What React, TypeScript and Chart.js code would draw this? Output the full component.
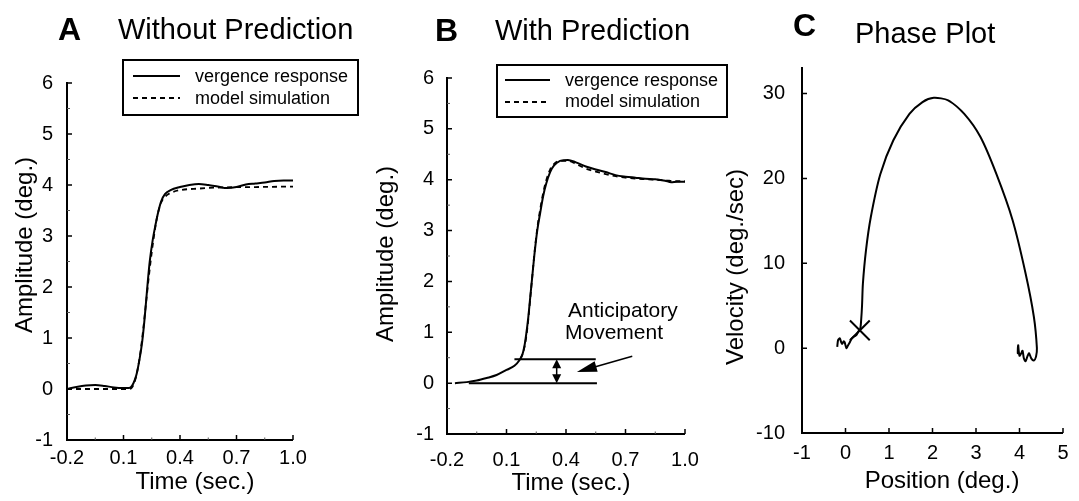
import { useEffect, useRef } from 'react';
import { Chart, registerables } from 'chart.js';

Chart.register(...registerables);

const FONT = "'Liberation Sans', Arial, Helvetica, sans-serif";
const W = 1079;
const H = 501;

// ---------------- Panel A: Without Prediction ----------------
const timeResponseA = [-0.2, -0.15, -0.1, -0.05, 0.0, 0.05, 0.1, 0.13, 0.145, 0.16, 0.17, 0.185, 0.2, 0.21, 0.22, 0.23, 0.24, 0.255, 0.27, 0.285, 0.3, 0.32, 0.35, 0.4, 0.45, 0.5, 0.55, 0.6, 0.65, 0.7, 0.75, 0.8, 0.85, 0.9, 0.95, 1.0];
const ampResponseA = [0, 0.04, 0.07, 0.08, 0.06, 0.03, 0.02, 0.02, 0.06, 0.18, 0.3, 0.58, 0.95, 1.3, 1.72, 2.15, 2.52, 2.92, 3.22, 3.48, 3.68, 3.82, 3.9, 3.96, 4.0, 4.02, 4.0, 3.97, 3.94, 3.96, 4.01, 4.03, 4.05, 4.08, 4.09, 4.09];
const timeModelA = [-0.2, 0.0, 0.13, 0.145, 0.16, 0.175, 0.19, 0.205, 0.22, 0.235, 0.25, 0.265, 0.28, 0.3, 0.33, 0.36, 0.4, 0.5, 0.6, 0.8, 1.0];
const ampModelA = [0, 0, 0, 0.03, 0.15, 0.38, 0.72, 1.18, 1.7, 2.22, 2.68, 3.08, 3.4, 3.66, 3.8, 3.86, 3.9, 3.93, 3.95, 3.96, 3.97];

// ---------------- Panel B: With Prediction ----------------
const timeResponseB = [-0.16, -0.1, -0.05, 0.0, 0.05, 0.1, 0.14, 0.165, 0.18, 0.19, 0.2, 0.21, 0.22, 0.23, 0.24, 0.255, 0.27, 0.285, 0.3, 0.32, 0.34, 0.37, 0.41, 0.45, 0.5, 0.55, 0.6, 0.65, 0.7, 0.75, 0.8, 0.85, 0.9, 0.93, 0.96, 1.0];
const ampResponseB = [0.0, 0.02, 0.05, 0.1, 0.16, 0.26, 0.34, 0.45, 0.56, 0.72, 0.98, 1.3, 1.7, 2.1, 2.5, 3.0, 3.35, 3.68, 3.92, 4.15, 4.28, 4.37, 4.39, 4.34, 4.26, 4.2, 4.15, 4.09, 4.06, 4.04, 4.02, 4.01, 3.98, 3.95, 3.96, 3.96];
const timeModelB = [0.17, 0.185, 0.2, 0.21, 0.22, 0.23, 0.24, 0.255, 0.27, 0.285, 0.3, 0.32, 0.34, 0.37, 0.41, 0.45, 0.5, 0.55, 0.6, 0.65, 0.7, 0.8, 0.9, 0.95, 1.0];
const ampModelB = [0.48, 0.62, 0.92, 1.26, 1.68, 2.1, 2.52, 3.04, 3.42, 3.74, 3.98, 4.2, 4.31, 4.37, 4.37, 4.31, 4.22, 4.16, 4.11, 4.07, 4.04, 4.01, 3.99, 3.97, 3.97];
// Anticipatory movement annotation (data coordinates)
const anticipatoryLevel = 0.47;
const upperLineTimes = [0.14, 0.55];
const baselineTimes = [-0.09, 0.556];
const doubleArrowTime = 0.353;
const pointerFrom = [0.734, 0.53];
const pointerTo = [0.455, 0.22];

// ---------------- Panel C: Phase Plot ----------------
const phasePosition = [-0.19, -0.17, -0.13, -0.1, -0.08, -0.04, -0.02, 0.02, 0.05, 0.09, 0.14, 0.19, 0.25, 0.3, 0.34, 0.36, 0.38, 0.4, 0.47, 0.58, 0.8, 1.1, 1.47, 1.77, 2.03, 2.36, 2.73, 3.1, 3.47, 3.84, 4.14, 4.33, 4.4, 4.38, 4.33, 4.27, 4.22, 4.18, 4.14, 4.1, 4.07, 4.04, 4.0, 3.98, 3.97, 3.96, 3.97];
const phaseVelocity = [0.15, 0.95, 1.15, 0.7, 0.5, 0.8, 0.7, 0.0, 0.25, 0.6, 1.1, 1.35, 1.55, 2.0, 2.3, 3.3, 5.0, 7.6, 11.5, 15.4, 20.5, 24.5, 27.6, 29.0, 29.5, 29.2, 27.6, 24.9, 20.5, 15.1, 8.8, 3.7, 0.0, -1.0, -1.45, -1.2, -0.6, -1.0, -1.55, -1.2, -0.3, -0.6, -0.9, -0.2, 0.35, -0.6, 0.1];
const onsetPosition = [0.33];
const onsetVelocity = [2.1];

// ---------------- Ticks ----------------
const timeTicks = [-0.2, 0.1, 0.4, 0.7, 1.0];
const timeTickLabels = ['-0.2', '0.1', '0.4', '0.7', '1.0'];
const timeMinorTicks = [-0.05, 0.25, 0.55, 0.85];
const ampTicks = [-1, 0, 1, 2, 3, 4, 5, 6];
const ampTickLabels = ['-1', '0', '1', '2', '3', '4', '5', '6'];
const ampMinorTicks = [-0.5, 0.5, 1.5, 2.5, 3.5, 4.5, 5.5];
const posTicks = [-1, 0, 1, 2, 3, 4, 5];
const posTickLabels = ['-1', '0', '1', '2', '3', '4', '5'];
const velTicks = [-10, 0, 10, 20, 30];
const velTickLabels = ['-10', '0', '10', '20', '30'];

const legendLabels = ['vergence response', 'model simulation'];

const zip = (xs: number[], ys: number[]) => xs.map((x, i) => ({ x, y: ys[i] }));

type TextSpec = { text: string; x: number; y: number; size: number; bold?: boolean; align?: CanvasTextAlign; rotate?: boolean };

interface PanelSpec {
  key: string;
  area: { left: number; right: number; top: number; bottom: number };
  xRange: [number, number];
  yRange: [number, number];
  xTicks: number[];
  xLabels: string[];
  xMinor: number[];
  yTicks: number[];
  yLabels: string[];
  yMinor: number[];
  xLabelPad: number;
  yLabelPad: number;
  axisOvershoot: number;
  texts: TextSpec[];
  legend?: { x: number; y: number; w: number; h: number; lineX0: number; lineX1: number; textX: number; rows: { lineY: number; baseY: number; dash: boolean; label: string }[] };
  datasets: any[];
  annotate?: (ctx: CanvasRenderingContext2D, chart: any) => void;
}

function arrowHead(ctx: CanvasRenderingContext2D, tx: number, ty: number, angle: number, len: number, half: number) {
  const bx = tx - Math.cos(angle) * len;
  const by = ty - Math.sin(angle) * len;
  const nx = -Math.sin(angle) * half;
  const ny = Math.cos(angle) * half;
  ctx.beginPath();
  ctx.moveTo(tx, ty);
  ctx.lineTo(bx + nx, by + ny);
  ctx.lineTo(bx - nx, by - ny);
  ctx.closePath();
  ctx.fill();
}

function annotateB(ctx: CanvasRenderingContext2D, chart: any) {
  const xs = chart.scales.x;
  const ys = chart.scales.y;
  const px = (v: number) => xs.getPixelForValue(v);
  const py = (v: number) => ys.getPixelForValue(v);
  ctx.save();
  ctx.strokeStyle = '#000';
  ctx.fillStyle = '#000';
  ctx.lineWidth = 2;
  // horizontal reference lines
  ctx.beginPath();
  ctx.moveTo(px(upperLineTimes[0]), py(anticipatoryLevel));
  ctx.lineTo(px(upperLineTimes[1]), py(anticipatoryLevel));
  ctx.moveTo(px(baselineTimes[0]), py(0));
  ctx.lineTo(px(baselineTimes[1]), py(0));
  ctx.stroke();
  // double arrow
  const ax = px(doubleArrowTime);
  const yTop = py(anticipatoryLevel);
  const yBot = py(0);
  ctx.lineWidth = 1.5;
  ctx.beginPath();
  ctx.moveTo(ax, yTop + 6);
  ctx.lineTo(ax, yBot - 6);
  ctx.stroke();
  arrowHead(ctx, ax, yTop, -Math.PI / 2, 9, 4.5);
  arrowHead(ctx, ax, yBot, Math.PI / 2, 9, 4.5);
  // pointer arrow
  const fx = px(pointerFrom[0]);
  const fy = py(pointerFrom[1]);
  const tx = px(pointerTo[0]);
  const ty = py(pointerTo[1]);
  const ang = Math.atan2(ty - fy, tx - fx);
  ctx.beginPath();
  ctx.moveTo(fx, fy);
  ctx.lineTo(tx - Math.cos(ang) * 12, ty - Math.sin(ang) * 12);
  ctx.stroke();
  arrowHead(ctx, tx, ty, ang, 20, 5.5);
  ctx.restore();
}

const solid = (data: { x: number; y: number }[]) => ({
  data,
  showLine: true,
  borderColor: '#000',
  backgroundColor: '#000',
  borderWidth: 2,
  pointRadius: 0,
  cubicInterpolationMode: 'monotone',
});

const dashed = (data: { x: number; y: number }[]) => ({
  data,
  showLine: true,
  borderColor: '#000',
  backgroundColor: '#000',
  borderWidth: 1.8,
  borderDash: [5, 4],
  pointRadius: 0,
  cubicInterpolationMode: 'monotone',
});

const panels: PanelSpec[] = [
  {
    key: 'A',
    area: { left: 67, right: 293, top: 83, bottom: 440 },
    xRange: [-0.2, 1.0],
    yRange: [-1, 6],
    xTicks: timeTicks,
    xLabels: timeTickLabels,
    xMinor: timeMinorTicks,
    yTicks: ampTicks,
    yLabels: ampTickLabels,
    yMinor: ampMinorTicks,
    xLabelPad: 6,
    yLabelPad: 14,
    axisOvershoot: 1,
    texts: [
      { text: 'A', x: 58, y: 40, size: 32, bold: true },
      { text: 'Without Prediction', x: 118, y: 39, size: 29 },
      { text: 'Time (sec.)', x: 195, y: 489, size: 24, align: 'center' },
      { text: 'Amplitude (deg.)', x: 32, y: 245, size: 24, align: 'center', rotate: true },
    ],
    legend: {
      x: 123, y: 60, w: 235, h: 55, lineX0: 133, lineX1: 180, textX: 195,
      rows: [
        { lineY: 76, baseY: 82, dash: false, label: legendLabels[0] },
        { lineY: 98, baseY: 104, dash: true, label: legendLabels[1] },
      ],
    },
    datasets: [solid(zip(timeResponseA, ampResponseA)), dashed(zip(timeModelA, ampModelA))],
  },
  {
    key: 'B',
    area: { left: 447, right: 685, top: 78, bottom: 434 },
    xRange: [-0.2, 1.0],
    yRange: [-1, 6],
    xTicks: timeTicks,
    xLabels: timeTickLabels,
    xMinor: timeMinorTicks,
    yTicks: ampTicks,
    yLabels: ampTickLabels,
    yMinor: ampMinorTicks,
    xLabelPad: 14,
    yLabelPad: 13,
    axisOvershoot: 1,
    texts: [
      { text: 'B', x: 435, y: 41, size: 32, bold: true },
      { text: 'With Prediction', x: 495, y: 40, size: 29 },
      { text: 'Time (sec.)', x: 571, y: 490, size: 24, align: 'center' },
      { text: 'Amplitude (deg.)', x: 393, y: 254, size: 24, align: 'center', rotate: true },
      { text: 'Anticipatory', x: 568, y: 317, size: 21 },
      { text: 'Movement', x: 565, y: 339, size: 21 },
    ],
    legend: {
      x: 497, y: 65, w: 230, h: 52, lineX0: 505, lineX1: 550, textX: 565,
      rows: [
        { lineY: 80, baseY: 86, dash: false, label: legendLabels[0] },
        { lineY: 102, baseY: 107, dash: true, label: legendLabels[1] },
      ],
    },
    datasets: [solid(zip(timeResponseB, ampResponseB)), dashed(zip(timeModelB, ampModelB))],
    annotate: annotateB,
  },
  {
    key: 'C',
    area: { left: 802, right: 1072, top: 67, bottom: 433 },
    xRange: [-1, 5],
    yRange: [-10, 33.13],
    xTicks: posTicks,
    xLabels: posTickLabels,
    xMinor: [],
    yTicks: velTicks,
    yLabels: velTickLabels,
    yMinor: [],
    xLabelPad: 8,
    yLabelPad: 17,
    axisOvershoot: 0,
    texts: [
      { text: 'C', x: 793, y: 36, size: 32, bold: true },
      { text: 'Phase Plot', x: 855, y: 43, size: 29 },
      { text: 'Position (deg.)', x: 942, y: 488, size: 24, align: 'center' },
      { text: 'Velocity (deg./sec)', x: 743, y: 267, size: 24, align: 'center', rotate: true },
    ],
    datasets: [
      { ...solid(zip(phasePosition, phaseVelocity)), cubicInterpolationMode: 'default', tension: 0.25 },
      {
        data: zip(onsetPosition, onsetVelocity),
        showLine: false,
        pointStyle: 'crossRot',
        pointRadius: 14,
        borderColor: '#000',
        borderWidth: 2,
      },
    ],
  },
];

function makePlugin(spec: PanelSpec) {
  return {
    id: 'panelDecor' + spec.key,
    beforeDatasetsDraw(chart: any) {
      const ctx: CanvasRenderingContext2D = chart.ctx;
      const xs = chart.scales.x;
      const ys = chart.scales.y;
      const { left, right, top, bottom } = chart.chartArea;
      ctx.save();
      ctx.strokeStyle = '#000';
      ctx.lineWidth = 2;
      ctx.beginPath();
      ctx.moveTo(left, top - spec.axisOvershoot);
      ctx.lineTo(left, bottom);
      ctx.lineTo(right, bottom);
      ctx.stroke();
      ctx.lineWidth = 1.5;
      ctx.beginPath();
      spec.xTicks.forEach((v) => {
        const p = xs.getPixelForValue(v);
        ctx.moveTo(p, bottom);
        ctx.lineTo(p, bottom - 5);
      });
      spec.yTicks.forEach((v) => {
        const p = ys.getPixelForValue(v);
        ctx.moveTo(left, p);
        ctx.lineTo(left + 5, p);
      });
      ctx.stroke();
      ctx.lineWidth = 1;
      ctx.strokeStyle = '#555';
      ctx.beginPath();
      spec.xMinor.forEach((v) => {
        const p = xs.getPixelForValue(v);
        ctx.moveTo(p, bottom);
        ctx.lineTo(p, bottom - 2.5);
      });
      spec.yMinor.forEach((v) => {
        const p = ys.getPixelForValue(v);
        ctx.moveTo(left, p);
        ctx.lineTo(left + 3, p);
      });
      ctx.stroke();
      ctx.restore();
    },
    afterDraw(chart: any) {
      const ctx: CanvasRenderingContext2D = chart.ctx;
      ctx.save();
      ctx.fillStyle = '#000';
      ctx.strokeStyle = '#000';
      ctx.textBaseline = 'alphabetic';
      spec.texts.forEach((t) => {
        ctx.font = `${t.bold ? 'bold ' : ''}${t.size}px ${FONT}`;
        ctx.textAlign = t.align || 'left';
        if (t.rotate) {
          ctx.save();
          ctx.translate(t.x, t.y);
          ctx.rotate(-Math.PI / 2);
          ctx.fillText(t.text, 0, 0);
          ctx.restore();
        } else {
          ctx.fillText(t.text, t.x, t.y);
        }
      });
      if (spec.legend) {
        const lg = spec.legend;
        ctx.lineWidth = 2;
        ctx.strokeRect(lg.x, lg.y, lg.w, lg.h);
        ctx.font = `18px ${FONT}`;
        ctx.textAlign = 'left';
        lg.rows.forEach((r) => {
          ctx.lineWidth = r.dash ? 1.8 : 2;
          ctx.setLineDash(r.dash ? [5, 4] : []);
          ctx.beginPath();
          ctx.moveTo(lg.lineX0, r.lineY);
          ctx.lineTo(lg.lineX1, r.lineY);
          ctx.stroke();
          ctx.setLineDash([]);
          ctx.fillText(r.label, lg.textX, r.baseY);
        });
      }
      if (spec.annotate) spec.annotate(ctx, chart);
      ctx.restore();
    },
  };
}

function Panel({ spec }: { spec: PanelSpec }) {
  const ref = useRef<HTMLCanvasElement | null>(null);
  useEffect(() => {
    if (!ref.current) return;
    const Y_W = 60;
    const chart = new Chart(ref.current, {
      type: 'scatter',
      data: { datasets: spec.datasets },
      options: {
        responsive: false,
        animation: false,
        events: [],
        layout: {
          padding: {
            left: spec.area.left - Y_W,
            top: spec.area.top,
            right: W - spec.area.right,
            bottom: 0,
          },
        },
        plugins: {
          legend: { display: false },
          tooltip: { enabled: false },
          title: { display: false },
        },
        scales: {
          x: {
            type: 'linear',
            min: spec.xRange[0],
            max: spec.xRange[1],
            afterBuildTicks: (s: any) => {
              s.ticks = spec.xTicks.map((v) => ({ value: v }));
            },
            afterFit: (s: any) => {
              s.height = H - spec.area.bottom;
            },
            ticks: {
              callback: (_v: any, i: number) => spec.xLabels[i],
              font: { family: FONT, size: 20 },
              color: '#000',
              padding: spec.xLabelPad,
              maxRotation: 0,
              autoSkip: false,
            },
            grid: { display: false, drawTicks: false },
            border: { display: false },
          },
          y: {
            type: 'linear',
            min: spec.yRange[0],
            max: spec.yRange[1],
            afterBuildTicks: (s: any) => {
              s.ticks = spec.yTicks.map((v) => ({ value: v }));
            },
            afterFit: (s: any) => {
              s.width = Y_W;
            },
            ticks: {
              callback: (_v: any, i: number) => spec.yLabels[i],
              font: { family: FONT, size: 20 },
              color: '#000',
              padding: spec.yLabelPad,
              autoSkip: false,
            },
            grid: { display: false, drawTicks: false },
            border: { display: false },
          },
        },
      } as any,
      plugins: [makePlugin(spec)],
    });
    return () => chart.destroy();
  }, [spec]);
  return (
    <canvas
      ref={ref}
      width={W}
      height={H}
      style={{ position: 'absolute', left: 0, top: 0, width: W, height: H }}
    />
  );
}

export default function App() {
  return (
    <div style={{ position: 'fixed', left: 0, top: 0, width: W, height: H, background: '#fff' }}>
      {panels.map((p) => (
        <Panel key={p.key} spec={p} />
      ))}
    </div>
  );
}
